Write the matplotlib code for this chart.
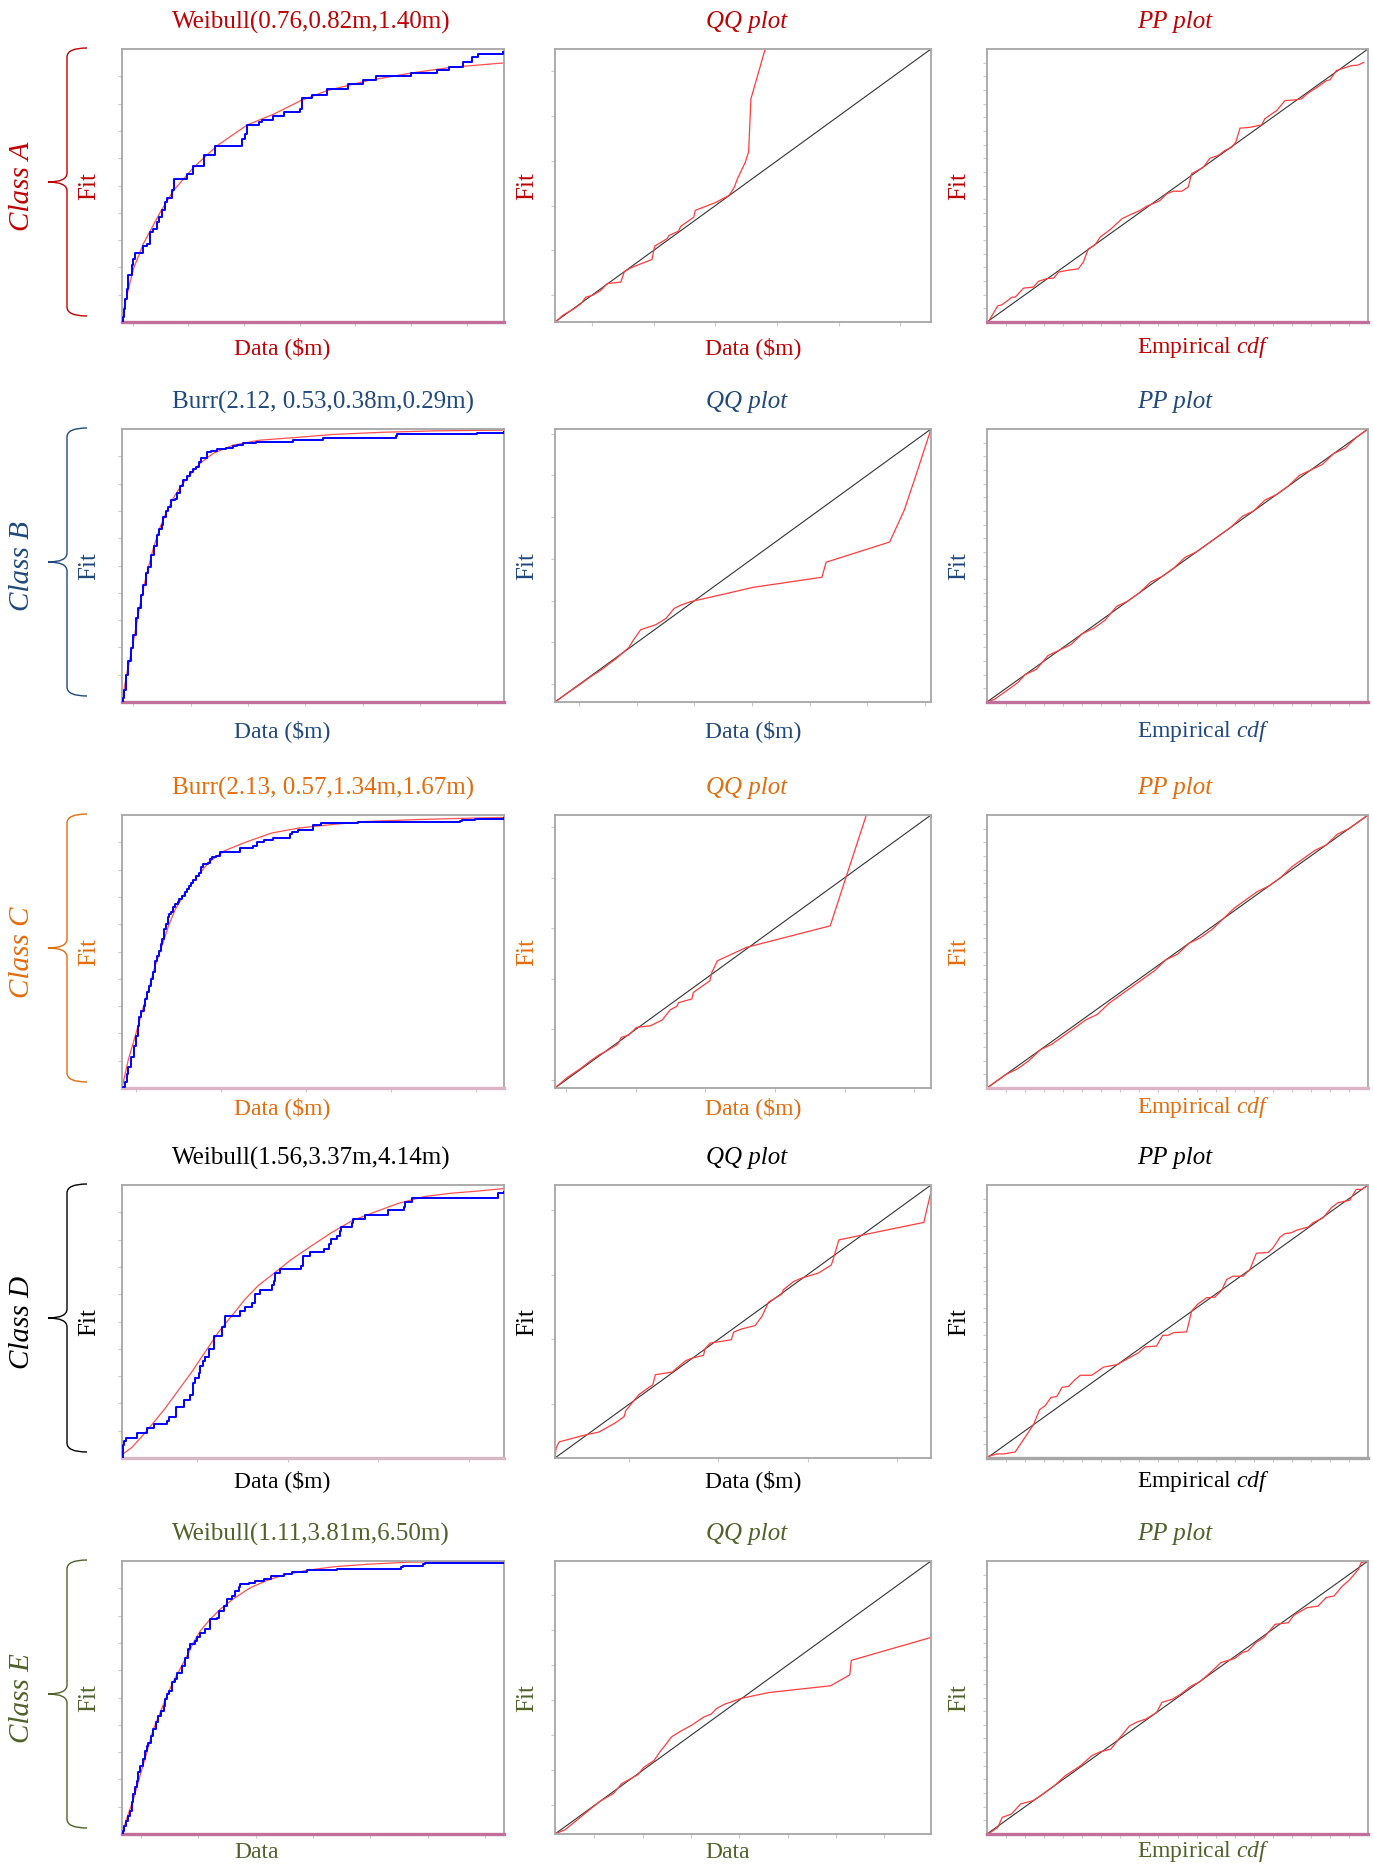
import numpy as np
import matplotlib
matplotlib.use("Agg")
import matplotlib.pyplot as plt
from matplotlib.path import Path
from matplotlib.patches import PathPatch

plt.rcParams['font.family'] = ['Liberation Serif', 'DejaVu Serif']
plt.rcParams['mathtext.fontset'] = 'custom'
plt.rcParams['mathtext.rm'] = 'Liberation Serif'
plt.rcParams['mathtext.it'] = 'Liberation Serif:italic'

classes = ["A", "B", "C", "D", "E"]
class_colors = ["#c00000", "#1f497d", "#e46c0a", "#000000", "#4f6228"]
fit_titles = ["Weibull(0.76,0.82m,1.40m)", "Burr(2.12, 0.53,0.38m,0.29m)",
              "Burr(2.13, 0.57,1.34m,1.67m)", "Weibull(1.56,3.37m,4.14m)",
              "Weibull(1.11,3.81m,6.50m)"]
data_labels = ["Data ($m)", "Data ($m)", "Data ($m)", "Data ($m)", "Data"]

# --- Class A ---
A_emp_x = [0, 0.002, 0.005, 0.008, 0.012, 0.017, 0.025, 0.030, 0.034, 0.054, 0.065, 0.074, 0.082, 0.091,
           0.098, 0.104, 0.113, 0.117, 0.130, 0.135, 0.170, 0.186, 0.215, 0.244, 0.314, 0.323, 0.327,
           0.358, 0.367, 0.396, 0.424, 0.466, 0.472, 0.498, 0.536, 0.592, 0.631, 0.666, 0.757, 0.825,
           0.855, 0.893, 0.917, 0.932, 0.998]
A_emp_y = [0, 0.018, 0.049, 0.085, 0.122, 0.171, 0.207, 0.232, 0.254, 0.280, 0.287, 0.329, 0.341, 0.366,
           0.384, 0.409, 0.439, 0.454, 0.482, 0.524, 0.543, 0.573, 0.610, 0.646, 0.671, 0.689, 0.722,
           0.732, 0.740, 0.756, 0.768, 0.780, 0.820, 0.832, 0.854, 0.872, 0.887, 0.902, 0.912, 0.923,
           0.933, 0.951, 0.970, 0.982, 0.990]
A_fit_x = [0, 0.005, 0.017, 0.030, 0.056, 0.100, 0.135, 0.188, 0.249, 0.328, 0.398, 0.468, 0.538,
           0.643, 0.757, 0.862, 1.0]
A_fit_y = [0, 0.049, 0.122, 0.195, 0.287, 0.402, 0.482, 0.567, 0.646, 0.722, 0.762, 0.811, 0.848,
           0.884, 0.912, 0.933, 0.949]
A_qq_x = [0, 0.016, 0.020, 0.051, 0.069, 0.082, 0.100, 0.122, 0.139, 0.175, 0.184, 0.201, 0.228, 0.258,
          0.265, 0.298, 0.303, 0.329, 0.334, 0.369, 0.373, 0.426, 0.462, 0.466, 0.477, 0.485, 0.506,
          0.515, 0.521, 0.559]
A_qq_y = [0, 0.018, 0.024, 0.049, 0.067, 0.091, 0.098, 0.116, 0.141, 0.146, 0.183, 0.198, 0.213, 0.229,
          0.278, 0.305, 0.317, 0.333, 0.350, 0.384, 0.409, 0.437, 0.463, 0.470, 0.494, 0.524, 0.585,
          0.624, 0.817, 1.0]
A_pp_x = [0.004, 0.028, 0.039, 0.066, 0.074, 0.096, 0.122, 0.135, 0.157, 0.175, 0.188, 0.210, 0.240,
          0.253, 0.266, 0.284, 0.297, 0.323, 0.354, 0.376, 0.402, 0.419, 0.445, 0.454, 0.472, 0.489,
          0.511, 0.528, 0.537, 0.568, 0.585, 0.607, 0.624, 0.642, 0.653, 0.664, 0.690, 0.721, 0.729,
          0.747, 0.760, 0.782, 0.803, 0.825, 0.843, 0.869, 0.891, 0.900, 0.917, 0.934, 0.956, 0.974, 0.989]
A_pp_y = [0.002, 0.059, 0.063, 0.091, 0.091, 0.124, 0.128, 0.149, 0.159, 0.161, 0.183, 0.189, 0.195,
          0.220, 0.268, 0.283, 0.311, 0.338, 0.378, 0.393, 0.409, 0.424, 0.439, 0.445, 0.470, 0.479,
          0.479, 0.494, 0.543, 0.567, 0.600, 0.610, 0.628, 0.640, 0.659, 0.710, 0.713, 0.722, 0.744,
          0.762, 0.774, 0.811, 0.813, 0.817, 0.839, 0.862, 0.884, 0.887, 0.921, 0.929, 0.939, 0.941, 0.951]

# --- Class B ---
B_emp_x = [0, 0.002, 0.005, 0.010, 0.017, 0.023, 0.030, 0.037, 0.043, 0.049, 0.056, 0.064, 0.069, 0.077,
           0.084, 0.091, 0.097, 0.104, 0.108, 0.114, 0.121, 0.127, 0.138, 0.143, 0.151, 0.160, 0.169,
           0.178, 0.186, 0.195, 0.201, 0.208, 0.214, 0.223, 0.232, 0.249, 0.273, 0.291, 0.301, 0.317,
           0.352, 0.447, 0.526, 0.717, 0.721, 0.930, 1.0]
B_emp_y = [0, 0.015, 0.045, 0.100, 0.149, 0.198, 0.246, 0.307, 0.344, 0.393, 0.429, 0.472, 0.496, 0.539,
           0.570, 0.612, 0.632, 0.650, 0.676, 0.698, 0.715, 0.741, 0.744, 0.766, 0.790, 0.813, 0.829,
           0.843, 0.854, 0.862, 0.880, 0.893, 0.895, 0.915, 0.920, 0.926, 0.930, 0.937, 0.941, 0.948,
           0.954, 0.959, 0.966, 0.976, 0.980, 0.987, 0.990]
B_fit_x = [0, 0.012, 0.030, 0.047, 0.064, 0.082, 0.099, 0.117, 0.134, 0.156, 0.178, 0.204, 0.239, 0.291,
           0.360, 0.447, 0.552, 0.682, 0.813, 1.0]
B_fit_y = [0, 0.100, 0.222, 0.356, 0.466, 0.563, 0.637, 0.698, 0.746, 0.795, 0.832, 0.874, 0.911, 0.941,
           0.959, 0.968, 0.980, 0.988, 0.993, 0.996]
B_qq_x = [0, 0.022, 0.063, 0.094, 0.121, 0.143, 0.161, 0.179, 0.196, 0.210, 0.228, 0.268, 0.295, 0.317,
          0.335, 0.362, 0.433, 0.527, 0.710, 0.721, 0.890, 0.929, 0.960, 1.0]
B_qq_y = [0, 0.022, 0.061, 0.092, 0.116, 0.139, 0.157, 0.179, 0.199, 0.230, 0.265, 0.283, 0.306, 0.343,
          0.355, 0.368, 0.390, 0.420, 0.457, 0.512, 0.586, 0.703, 0.831, 1.0]
B_pp_x = [0, 0.02, 0.05, 0.08, 0.10, 0.13, 0.16, 0.19, 0.22, 0.25, 0.28, 0.31, 0.34, 0.37, 0.40, 0.43,
          0.46, 0.49, 0.52, 0.55, 0.58, 0.61, 0.64, 0.67, 0.70, 0.73, 0.76, 0.79, 0.82, 0.85, 0.88, 0.91,
          0.94, 0.97, 1.0]
B_pp_y = [0, 0.01, 0.04, 0.07, 0.10, 0.12, 0.17, 0.19, 0.21, 0.25, 0.27, 0.30, 0.35, 0.37, 0.40, 0.44,
          0.46, 0.49, 0.53, 0.55, 0.58, 0.61, 0.64, 0.68, 0.70, 0.74, 0.76, 0.79, 0.83, 0.85, 0.87, 0.91,
          0.93, 0.97, 1.0]

# --- Class C ---
C_emp_x = [0, 0.002, 0.007, 0.013, 0.017, 0.024, 0.031, 0.037, 0.042, 0.045, 0.051, 0.057, 0.061, 0.065,
           0.071, 0.077, 0.080, 0.087, 0.092, 0.096, 0.102, 0.106, 0.111, 0.116, 0.120, 0.124, 0.129,
           0.133, 0.139, 0.146, 0.150, 0.157, 0.166, 0.170, 0.176, 0.181, 0.187, 0.194, 0.201, 0.207,
           0.211, 0.225, 0.231, 0.235, 0.246, 0.257, 0.310, 0.342, 0.353, 0.371, 0.394, 0.440, 0.445,
           0.462, 0.501, 0.521, 0.619, 0.885, 0.889, 0.924, 1.0]
C_emp_y = [0, 0.002, 0.021, 0.051, 0.076, 0.112, 0.154, 0.191, 0.228, 0.259, 0.283, 0.302, 0.326, 0.350,
           0.375, 0.399, 0.424, 0.466, 0.485, 0.503, 0.527, 0.546, 0.582, 0.601, 0.625, 0.637, 0.646,
           0.662, 0.674, 0.683, 0.692, 0.702, 0.717, 0.729, 0.741, 0.751, 0.763, 0.775, 0.788, 0.808,
           0.821, 0.824, 0.837, 0.845, 0.851, 0.863, 0.878, 0.888, 0.900, 0.910, 0.916, 0.930, 0.939,
           0.945, 0.963, 0.969, 0.973, 0.977, 0.982, 0.985, 0.988]
C_fit_x = [0, 0.017, 0.035, 0.052, 0.070, 0.087, 0.105, 0.122, 0.140, 0.166, 0.192, 0.227, 0.270, 0.323,
           0.392, 0.462, 0.549, 0.636, 0.767, 0.898, 1.0]
C_fit_y = [0, 0.106, 0.192, 0.277, 0.363, 0.448, 0.522, 0.595, 0.656, 0.717, 0.766, 0.827, 0.870, 0.900,
           0.934, 0.952, 0.965, 0.976, 0.983, 0.988, 0.991]
C_qq_x = [0, 0.033, 0.069, 0.095, 0.117, 0.139, 0.167, 0.176, 0.196, 0.217, 0.254, 0.285, 0.307, 0.324,
          0.329, 0.364, 0.368, 0.412, 0.417, 0.432, 0.509, 0.732, 0.778, 0.828]
C_qq_y = [0, 0.039, 0.072, 0.100, 0.121, 0.137, 0.161, 0.185, 0.194, 0.222, 0.228, 0.249, 0.287, 0.299,
          0.313, 0.326, 0.350, 0.393, 0.423, 0.466, 0.515, 0.594, 0.789, 1.0]
C_pp_x = [0, 0.02, 0.05, 0.08, 0.11, 0.14, 0.17, 0.20, 0.23, 0.26, 0.29, 0.32, 0.35, 0.38, 0.41, 0.44,
          0.47, 0.50, 0.53, 0.56, 0.59, 0.62, 0.65, 0.68, 0.71, 0.74, 0.77, 0.80, 0.83, 0.86, 0.89, 0.92,
          0.95, 0.98, 1.0]
C_pp_y = [0, 0.02, 0.05, 0.07, 0.10, 0.14, 0.16, 0.19, 0.22, 0.25, 0.27, 0.31, 0.34, 0.37, 0.40, 0.43,
          0.47, 0.49, 0.53, 0.55, 0.58, 0.62, 0.66, 0.69, 0.72, 0.74, 0.77, 0.81, 0.84, 0.87, 0.89, 0.93,
          0.95, 0.98, 1.0]

# --- Class D ---
D_emp_x = [0, 0.002, 0.004, 0.010, 0.039, 0.065, 0.083, 0.118, 0.124, 0.141, 0.161, 0.179, 0.185, 0.192,
           0.201, 0.205, 0.211, 0.216, 0.227, 0.240, 0.263, 0.270, 0.310, 0.323, 0.340, 0.347, 0.349,
           0.362, 0.392, 0.397, 0.401, 0.414, 0.469, 0.473, 0.491, 0.530, 0.543, 0.548, 0.562, 0.571,
           0.574, 0.602, 0.606, 0.635, 0.697, 0.737, 0.741, 0.759, 0.983, 1.0]
D_emp_y = [0, 0.049, 0.061, 0.075, 0.091, 0.109, 0.124, 0.136, 0.152, 0.185, 0.213, 0.231, 0.274, 0.292,
           0.310, 0.338, 0.355, 0.371, 0.399, 0.447, 0.480, 0.520, 0.537, 0.553, 0.569, 0.586, 0.600,
           0.614, 0.632, 0.650, 0.677, 0.693, 0.705, 0.739, 0.753, 0.766, 0.784, 0.802, 0.814, 0.833,
           0.845, 0.860, 0.877, 0.889, 0.909, 0.921, 0.938, 0.954, 0.970, 0.973]
D_fit_x = [0, 0.026, 0.052, 0.078, 0.113, 0.148, 0.183, 0.218, 0.253, 0.288, 0.323, 0.357, 0.401, 0.445,
           0.497, 0.549, 0.602, 0.654, 0.724, 0.793, 0.863, 0.933, 1.0]
D_fit_y = [0.012, 0.039, 0.079, 0.122, 0.182, 0.249, 0.316, 0.389, 0.462, 0.522, 0.583, 0.632, 0.680,
           0.729, 0.778, 0.826, 0.869, 0.897, 0.933, 0.958, 0.970, 0.978, 0.987]
D_qq_x = [0, 0.003, 0.011, 0.082, 0.117, 0.144, 0.162, 0.184, 0.188, 0.201, 0.223, 0.241, 0.260, 0.267,
          0.312, 0.347, 0.365, 0.395, 0.399, 0.413, 0.469, 0.475, 0.497, 0.532, 0.550, 0.568, 0.603,
          0.607, 0.634, 0.656, 0.700, 0.735, 0.742, 0.755, 0.981, 1.0]
D_qq_y = [0, 0.037, 0.059, 0.085, 0.095, 0.116, 0.130, 0.152, 0.173, 0.195, 0.232, 0.250, 0.268, 0.305,
          0.315, 0.356, 0.366, 0.376, 0.400, 0.421, 0.433, 0.461, 0.473, 0.485, 0.518, 0.571, 0.600,
          0.616, 0.646, 0.659, 0.677, 0.707, 0.738, 0.799, 0.863, 0.976]
D_pp_x = [0.004, 0.026, 0.044, 0.074, 0.122, 0.138, 0.153, 0.168, 0.183, 0.197, 0.214, 0.231, 0.245,
          0.275, 0.306, 0.341, 0.349, 0.376, 0.397, 0.415, 0.445, 0.461, 0.476, 0.489, 0.524, 0.537,
          0.552, 0.576, 0.598, 0.616, 0.629, 0.646, 0.672, 0.690, 0.707, 0.738, 0.751, 0.769, 0.782,
          0.799, 0.812, 0.843, 0.856, 0.882, 0.904, 0.921, 0.952, 0.969, 0.983, 0.997]
D_pp_y = [0.006, 0.015, 0.015, 0.022, 0.122, 0.177, 0.192, 0.222, 0.225, 0.259, 0.262, 0.287, 0.303,
          0.303, 0.333, 0.342, 0.348, 0.369, 0.385, 0.407, 0.410, 0.449, 0.450, 0.459, 0.462, 0.538,
          0.562, 0.587, 0.589, 0.614, 0.654, 0.666, 0.666, 0.690, 0.750, 0.753, 0.770, 0.809, 0.822,
          0.825, 0.834, 0.846, 0.862, 0.880, 0.917, 0.935, 0.944, 0.984, 0.984, 0.996]

# --- Class E ---
E_emp_x = [0, 0.002, 0.005, 0.011, 0.017, 0.021, 0.025, 0.030, 0.034, 0.039, 0.043, 0.047, 0.054, 0.060,
           0.065, 0.069, 0.075, 0.082, 0.089, 0.095, 0.102, 0.109, 0.113, 0.117, 0.122, 0.130, 0.139,
           0.145, 0.157, 0.165, 0.174, 0.179, 0.190, 0.196, 0.205, 0.218, 0.231, 0.249, 0.253, 0.266,
           0.275, 0.288, 0.297, 0.306, 0.310, 0.332, 0.349, 0.371, 0.389, 0.424, 0.446, 0.485, 0.564,
           0.730, 0.735, 0.787, 0.792, 1.0]
E_emp_y = [0, 0.012, 0.030, 0.049, 0.067, 0.085, 0.116, 0.146, 0.171, 0.195, 0.226, 0.250, 0.274, 0.305,
           0.323, 0.335, 0.360, 0.384, 0.409, 0.433, 0.451, 0.470, 0.494, 0.512, 0.524, 0.555, 0.567,
           0.591, 0.616, 0.646, 0.677, 0.695, 0.707, 0.720, 0.738, 0.752, 0.787, 0.793, 0.817, 0.835,
           0.860, 0.870, 0.890, 0.906, 0.915, 0.921, 0.927, 0.933, 0.945, 0.954, 0.960, 0.966, 0.970,
           0.978, 0.982, 0.988, 0.994, 0.994]
E_fit_x = [0, 0.012, 0.030, 0.047, 0.065, 0.082, 0.100, 0.117, 0.135, 0.152, 0.170, 0.187, 0.205, 0.231,
           0.257, 0.292, 0.336, 0.380, 0.424, 0.485, 0.555, 0.642, 0.756, 0.870, 0.994]
E_fit_y = [0, 0.055, 0.128, 0.213, 0.299, 0.384, 0.445, 0.506, 0.561, 0.604, 0.652, 0.701, 0.744, 0.787,
           0.823, 0.862, 0.902, 0.929, 0.949, 0.966, 0.979, 0.988, 0.996, 0.998, 1.0]
E_qq_x = [0, 0.026, 0.062, 0.091, 0.120, 0.156, 0.177, 0.221, 0.235, 0.264, 0.279, 0.293, 0.310, 0.336,
          0.364, 0.394, 0.416, 0.430, 0.452, 0.496, 0.568, 0.733, 0.784, 0.788, 1.0]
E_qq_y = [0, 0.015, 0.055, 0.088, 0.120, 0.149, 0.184, 0.218, 0.243, 0.270, 0.301, 0.325, 0.356, 0.378,
          0.399, 0.427, 0.440, 0.460, 0.476, 0.497, 0.518, 0.543, 0.583, 0.636, 0.720]
E_pp_x = [0.003, 0.028, 0.040, 0.064, 0.088, 0.120, 0.141, 0.177, 0.205, 0.226, 0.247, 0.275, 0.297,
          0.325, 0.346, 0.374, 0.395, 0.417, 0.445, 0.459, 0.487, 0.508, 0.537, 0.558, 0.586, 0.614,
          0.629, 0.650, 0.671, 0.685, 0.706, 0.727, 0.756, 0.791, 0.805, 0.840, 0.869, 0.890, 0.911,
          0.932, 0.953, 0.975, 0.982, 1.0]
E_pp_y = [0.0, 0.024, 0.061, 0.073, 0.110, 0.122, 0.140, 0.177, 0.213, 0.232, 0.252, 0.287, 0.301,
          0.311, 0.348, 0.396, 0.411, 0.421, 0.445, 0.482, 0.494, 0.512, 0.543, 0.557, 0.591, 0.628,
          0.634, 0.643, 0.665, 0.671, 0.701, 0.720, 0.768, 0.774, 0.801, 0.829, 0.835, 0.866, 0.872,
          0.907, 0.933, 0.970, 0.994, 1.0]

series = {
    "A": (A_emp_x, A_emp_y, A_fit_x, A_fit_y, A_qq_x, A_qq_y, A_pp_x, A_pp_y),
    "B": (B_emp_x, B_emp_y, B_fit_x, B_fit_y, B_qq_x, B_qq_y, B_pp_x, B_pp_y),
    "C": (C_emp_x, C_emp_y, C_fit_x, C_fit_y, C_qq_x, C_qq_y, C_pp_x, C_pp_y),
    "D": (D_emp_x, D_emp_y, D_fit_x, D_fit_y, D_qq_x, D_qq_y, D_pp_x, D_pp_y),
    "E": (E_emp_x, E_emp_y, E_fit_x, E_fit_y, E_qq_x, E_qq_y, E_pp_x, E_pp_y),
}

# tick marks (first tick, spacing) as fractions of the range
cdf_xticks = [(0.028, 0.1457), (0.03, 0.15), (0.036, 0.2225), (0.197, 0.237), (0.05, 0.15)]
qq_ticks = [(0.098, 0.164), (0.065, 0.153), (0.03, 0.185), (0.197, 0.2375), (0.105, 0.1285)]
# colour of the bottom edge of cdf / pp panels
base_cdf = ["#c0709a", "#c0709a", "#dcb4c8", "#d8b8c4", "#c0709a"]
base_pp = ["#c0709a", "#c0709a", "#dcb4c8", "#a6a6a6", "#c0709a"]
xlab_gap = [25, 28, 19, 22, 17]

W, H = 1373, 1865
fig = plt.figure(figsize=(W / 100, H / 100), dpi=100)
cols = [(122, 504), (555, 931), (987, 1368)]
title_x = [172, 706, 1137]
xlab_x = [234, 705, 1137]
row_top = [50, 430, 816, 1186, 1562]
ph = 273

ov = fig.add_axes([0, 0, 1, 1])
ov.set_xlim(0, W)
ov.set_ylim(H, 0)
ov.axis("off")


def ticks(off, step):
    return np.arange(off, 0.995, step)


def style(ax, xt, yt, bottom=None):
    ax.set_xlim(0, 1)
    ax.set_ylim(0, 1)
    for s in ax.spines.values():
        s.set_color("#a6a6a6")
        s.set_linewidth(1.3)
    if bottom is not None:
        ax.spines["bottom"].set_color(bottom)
        ax.spines["bottom"].set_linewidth(2.4)
    ax.set_xticks(xt)
    ax.set_yticks(yt)
    ax.tick_params(length=3, width=0.8, color="#c8c8c8", labelbottom=False, labelleft=False)


def brace(x_line, x_end, x_tip, top, bot, color):
    mid = (top + bot) / 2
    r = 9
    verts = [(x_end, top), (x_line, top), (x_line, top + r),
             (x_line, mid - r), (x_line, mid), (x_tip, mid),
             (x_line, mid), (x_line, mid + r),
             (x_line, bot - r), (x_line, bot), (x_end, bot)]
    codes = [Path.MOVETO, Path.CURVE3, Path.CURVE3,
             Path.LINETO, Path.CURVE3, Path.CURVE3,
             Path.CURVE3, Path.CURVE3,
             Path.LINETO, Path.CURVE3, Path.CURVE3]
    ov.add_patch(PathPatch(Path(verts, codes), fill=False, ec=color, lw=1.0))


for i, cls in enumerate(classes):
    c = class_colors[i]
    ex, ey, fx, fy, qx, qy, px, py = series[cls]
    top = row_top[i]
    axes = []
    for (x0, x1) in cols:
        axes.append(fig.add_axes([x0 / W, 1 - (top + ph) / H, (x1 - x0) / W, ph / H]))
    a1, a2, a3 = axes

    # fitted cdf against empirical cdf
    a1.plot(fx, fy, color="#ff5050", lw=0.9, zorder=2)
    a1.step(ex, ey, where="post", color="#0000ff", lw=1.4, zorder=3)
    style(a1, ticks(*cdf_xticks[i]), ticks(0.1, 0.1), base_cdf[i])

    # QQ plot
    a2.plot([0, 1], [0, 1], color="#333333", lw=0.8)
    a2.plot(qx, qy, color="#ff3c3c", lw=0.9)
    style(a2, ticks(*qq_ticks[i]), ticks(*qq_ticks[i]))

    # PP plot
    a3.plot([0, 1], [0, 1], color="#333333", lw=0.8)
    a3.plot(px, py, color="#ff3c3c", lw=0.9)
    style(a3, ticks(0.05, 0.05), ticks(0.05, 0.05), base_pp[i])

    bot = top + ph
    mid = top + ph / 2
    titles = [fit_titles[i], "QQ plot", "PP plot"]
    xlabs = [data_labels[i], data_labels[i], r"Empirical $\mathit{cdf}$"]
    for k, (x0, x1) in enumerate(cols):
        ov.text(title_x[k], top - 28, titles[k], color=c, fontsize=18, ha="left", va="center",
                style="normal" if k == 0 else "italic")
        ov.text(xlab_x[k], bot + xlab_gap[i], xlabs[k], color=c, fontsize=17, ha="left", va="center")
        ov.text(x0 - (33 if k == 0 else 28), mid, "Fit", color=c, fontsize=18, rotation=90,
                ha="center", va="center")

    brace(67, 87, 48, top - 1, bot - 6, c)
    ov.text(22, mid, "Class " + cls, color=c, fontsize=21, style="italic", rotation=90,
            ha="center", va="center")

fig.savefig("out.png", dpi=100)
